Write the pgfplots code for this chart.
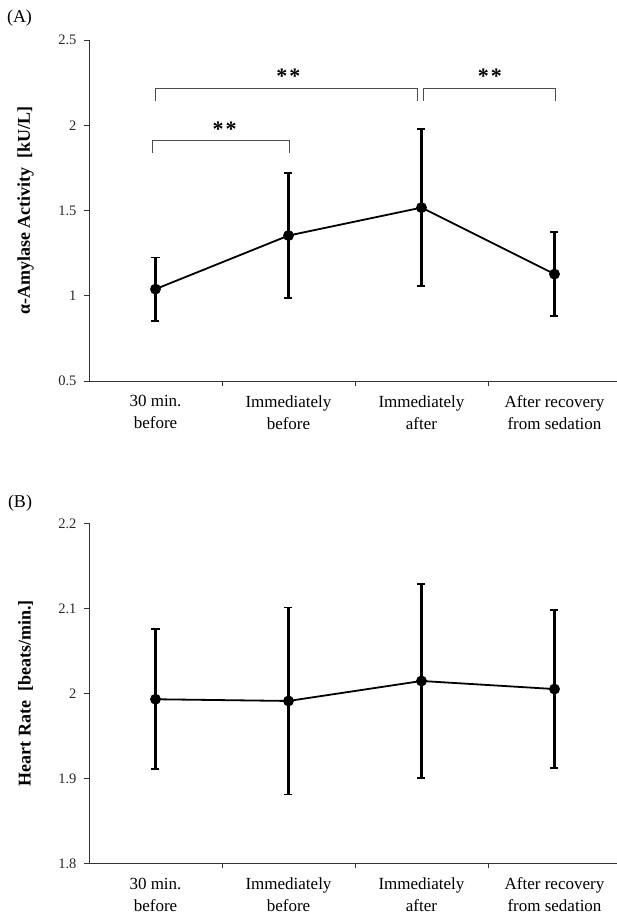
\documentclass[border=0pt]{standalone}
\usepackage{fontspec}
\setmainfont{Liberation Serif}
\usepackage{pgfplots}
\pgfplotsset{compat=1.18}

\pgfplotsset{
 panel/.style={
  scale only axis, width=528pt,
  xmin=-0.5, xmax=3.47,
  axis x line=bottom, axis y line=left,
  axis line style={-, black!80, line width=0.8pt},
  tick align=outside, major tick length=5pt,
  tick style={black!80, line width=0.8pt},
  xtick={0.5,1.5,2.5}, xticklabels={},
  extra x ticks={0,1,2,3},
  extra x tick labels={{30 min.\\before},{Immediately\\before},{Immediately\\after},{After recovery\\from sedation}},
  extra x tick style={major tick length=0pt, tick label style={align=center, font=\fontsize{17}{22}\selectfont, yshift=-11pt}},
  yticklabel style={font=\fontsize{14.5}{16}\selectfont, black!85, xshift=-4pt},
  /pgf/number format/assume math mode=true,
  ylabel style={at={(axis description cs:-0.12,0.5)}, anchor=center, font=\fontsize{18}{20}\selectfont\bfseries},
  clip=false,
 },
 dataline/.style={black, line width=1.8pt, mark=*, mark size=4.5pt, mark options={solid},
  error bars/y dir=both, error bars/y explicit,
  error bars/error bar style={line width=2.2pt},
  error bars/error mark options={rotate=90, mark size=4pt, line width=1.8pt}},
}

\begin{document}
\begin{tikzpicture}
\useasboundingbox (0,0) rectangle (617pt,-918pt);
\node[font=\fontsize{18}{18}\selectfont] at (19.5pt,-18pt) {(A)};
\node[font=\fontsize{18}{18}\selectfont] at (20pt,-503pt) {(B)};

\begin{axis}[panel, at={(89pt,-381pt)}, anchor=south west, height=341pt,
  ymin=0.5, ymax=2.5, ytick={0.5,1,1.5,2,2.5},
  ylabel={α-Amylase Activity\ \ [kU/L]}]
\addplot[dataline] coordinates {(0,1.039) +- (0,0.185) (1,1.353) +- (0,0.366) (2,1.517) +- (0,0.461) (3,1.127) +- (0,0.247)};
\draw[black!70, line width=0.9pt] (axis cs:-0.026,1.837) |- (axis cs:1.004,1.909) -- (axis cs:1.004,1.837);
\draw[black!70, line width=0.9pt] (axis cs:0,2.145) |- (axis cs:1.97,2.217) -- (axis cs:1.97,2.145);
\draw[black!70, line width=0.9pt] (axis cs:2.013,2.145) |- (axis cs:3.01,2.217) -- (axis cs:3.01,2.145);
\node[font=\fontsize{22}{22}\selectfont\bfseries] at (axis cs:0.52,1.978) {*\hspace{2pt}*};
\node[font=\fontsize{22}{22}\selectfont\bfseries] at (axis cs:1.0,2.289) {*\hspace{2pt}*};
\node[font=\fontsize{22}{22}\selectfont\bfseries] at (axis cs:2.515,2.289) {*\hspace{2pt}*};
\end{axis}

\begin{axis}[panel, at={(89pt,-863.3pt)}, anchor=south west, height=340pt,
  ymin=1.8, ymax=2.2, ytick={1.8,1.9,2,2.1,2.2},
  ylabel={Heart Rate\ \ [beats/min.]}]
\addplot[dataline] coordinates {(0,1.993) +- (0,0.0825) (1,1.991) +- (0,0.11) (2,2.0145) +- (0,0.114) (3,2.005) +- (0,0.093)};
\end{axis}
\end{tikzpicture}
\end{document}
